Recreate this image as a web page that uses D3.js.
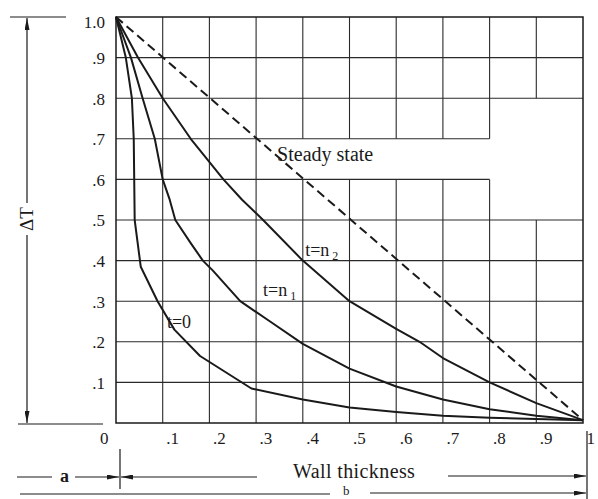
<!DOCTYPE html>
<html><head><meta charset="utf-8">
<script src="https://cdn.jsdelivr.net/npm/d3@7/dist/d3.min.js"></script>
<style>html,body{margin:0;padding:0;background:#fff;} svg{display:block;}</style>
</head><body>
<svg id="chart" width="598" height="499"></svg>
<script>
// ---------- data ----------
const xTicks = [0, 0.1, 0.2, 0.3, 0.4, 0.5, 0.6, 0.7, 0.8, 0.9, 1];
const xTickLabels = ["0", ".1", ".2", ".3", ".4", ".5", ".6", ".7", ".8", ".9", "1"];
const yTicks = [1, 0.9, 0.8, 0.7, 0.6, 0.5, 0.4, 0.3, 0.2, 0.1];
const yTickLabels = ["1.0", ".9", ".8", ".7", ".6", ".5", ".4", ".3", ".2", ".1"];
const gridTicks = [0.1, 0.2, 0.3, 0.4, 0.5, 0.6, 0.7, 0.8, 0.9];
// gaps in the printed grid (blank area around "Steady state")
const vGridGaps = [
  {at: 0.4, from: 0.6, to: 0.7}, {at: 0.5, from: 0.6, to: 0.7},
  {at: 0.6, from: 0.6, to: 0.7}, {at: 0.7, from: 0.6, to: 0.7},
  {at: 0.8, from: 0.6, to: 0.7}, {at: 0.9, from: 0.5, to: 0.8}
];
const hGridGaps = [
  {at: 0.6, from: 0.8, to: 1}, {at: 0.7, from: 0.8, to: 1}
];

const curveT0 = [[0,1],[0.021,0.9],[0.034,0.8],[0.038,0.7],[0.039,0.6],[0.04,0.5],
  [0.053,0.385],[0.089,0.3],[0.125,0.23],[0.18,0.165],[0.29,0.085],[0.4,0.058],
  [0.5,0.038],[0.6,0.027],[0.7,0.018],[0.8,0.013],[0.9,0.01],[1,0.007]];
const curveN1 = [[0,1],[0.032,0.9],[0.057,0.8],[0.083,0.7],[0.1,0.6],[0.115,0.55],
  [0.127,0.5],[0.16,0.443],[0.186,0.4],[0.207,0.376],[0.266,0.3],[0.33,0.25],
  [0.4,0.195],[0.5,0.134],[0.6,0.09],[0.7,0.058],[0.8,0.034],[0.9,0.018],[1,0.007]];
const curveN2 = [[0,1],[0.047,0.9],[0.1,0.8],[0.16,0.7],[0.23,0.6],[0.27,0.55],
  [0.315,0.5],[0.4,0.4],[0.5,0.3],[0.6,0.232],[0.65,0.2],[0.7,0.16],[0.8,0.1],
  [0.9,0.049],[1,0.007]];
const steadyState = [[0,1],[1,0.007]];

// ---------- setup ----------
const svg = d3.select("#chart");
const ink = "#1a1a1a";
const serif = "'Liberation Serif','Times New Roman',Times,serif";
const x = d3.scaleLinear().domain([0,1]).range([116,583]);
const y = d3.scaleLinear().domain([0,1]).range([423,17]);

svg.append("rect").attr("width",598).attr("height",499).attr("fill","#fff");

const defs = svg.append("defs");
defs.append("marker").attr("id","arr")
  .attr("viewBox","0 0 12 5").attr("refX",12).attr("refY",2.5)
  .attr("markerWidth",12).attr("markerHeight",5).attr("markerUnits","userSpaceOnUse")
  .attr("orient","auto-start-reverse")
  .append("path").attr("d","M0,0L12,2.5L0,5Z").attr("fill",ink);

// ---------- grid ----------
const grid = svg.append("g").attr("stroke","#2a2a2a").attr("stroke-width",1.1);
function spans(gaps, v){
  const g = gaps.find(d => Math.abs(d.at - v) < 1e-9);
  return g ? [[0,g.from],[g.to,1]] : [[0,1]];
}
gridTicks.forEach(v => {
  spans(vGridGaps, v).forEach(s => grid.append("line")
    .attr("x1",x(v)).attr("x2",x(v)).attr("y1",y(s[0])).attr("y2",y(s[1])));
  spans(hGridGaps, v).forEach(s => grid.append("line")
    .attr("y1",y(v)).attr("y2",y(v)).attr("x1",x(s[0])).attr("x2",x(s[1])));
});
svg.append("rect").attr("x",x(0)).attr("y",y(1))
  .attr("width",x(1)-x(0)).attr("height",y(0)-y(1))
  .attr("fill","none").attr("stroke",ink).attr("stroke-width",1.5);

// ---------- axes ----------
const yAxis = d3.axisLeft(y).tickValues(yTicks).tickFormat((d,i)=>yTickLabels[i])
  .tickSize(0).tickPadding(11);
const gy = svg.append("g").attr("transform",`translate(${x(0)},0)`).call(yAxis);
gy.select(".domain").remove();
gy.selectAll("text").attr("font-family",serif).attr("font-size",17).attr("fill",ink)
  .attr("dy",(d,i)=> i===0 ? "0.6em" : "0.35em");

const xAxis = d3.axisBottom(x).tickValues(xTicks).tickFormat((d,i)=>xTickLabels[i])
  .tickSize(0).tickPadding(9);
const gx = svg.append("g").attr("transform",`translate(0,${y(0)})`).call(xAxis);
gx.select(".domain").remove();
gx.selectAll("text").attr("font-family",serif).attr("font-size",17).attr("fill",ink)
  .attr("text-anchor",(d,i)=> i===0 ? "end" : "start")
  .attr("dx",(d,i)=> i===0 ? -8 : 3);

// ---------- curves ----------
const line = d3.line().x(d=>x(d[0])).y(d=>y(d[1]));
[curveT0, curveN1, curveN2].forEach(c => svg.append("path").datum(c)
  .attr("d",line).attr("fill","none").attr("stroke",ink)
  .attr("stroke-width",2).attr("stroke-linejoin","round"));
svg.append("path").datum(steadyState).attr("d",line).attr("fill","none")
  .attr("stroke",ink).attr("stroke-width",2).attr("stroke-dasharray","9,5");

// ---------- labels ----------
function label(txt, sub, dx, dyv, size){
  const t = svg.append("text").attr("x",x(dx)).attr("y",y(dyv))
    .attr("font-family",serif).attr("font-size",size).attr("fill",ink).text(txt);
  if (sub) t.append("tspan").attr("font-size",12).attr("dx",3).attr("dy",4).text(sub);
}
label("t=0", "", 0.109, 0.234, 18);
label("t=n", "1", 0.315, 0.313, 18);
label("t=n", "2", 0.405, 0.411, 18);
svg.append("text").attr("x",x(0.345)).attr("y",y(0.645))
  .attr("font-family",serif).attr("font-size",20).attr("fill",ink).text("Steady state");

// ---------- ΔT dimension ----------
const dim = svg.append("g").attr("stroke",ink).attr("stroke-width",1.2).attr("fill","none");
dim.append("line").attr("x1",10).attr("x2",66).attr("y1",y(1)).attr("y2",y(1));
dim.append("line").attr("x1",18).attr("x2",103).attr("y1",y(0)+1).attr("y2",y(0)+1);
dim.append("line").attr("x1",27).attr("x2",27).attr("y1",203).attr("y2",y(1)+1)
  .attr("marker-end","url(#arr)");
dim.append("line").attr("x1",27).attr("x2",27).attr("y1",235).attr("y2",y(0))
  .attr("marker-end","url(#arr)");
svg.append("text").attr("transform","translate(33,219) rotate(-90)")
  .attr("text-anchor","middle").attr("font-family",serif).attr("font-size",19)
  .attr("fill",ink).text("ΔT");

// ---------- wall thickness dimensions ----------
dim.append("line").attr("x1",17).attr("x2",52).attr("y1",477).attr("y2",477);
dim.append("line").attr("x1",75).attr("x2",119).attr("y1",477).attr("y2",477)
  .attr("marker-end","url(#arr)");
dim.append("line").attr("x1",120).attr("x2",120).attr("y1",449).attr("y2",489);
dim.append("line").attr("x1",121).attr("x2",257).attr("y1",477).attr("y2",477)
  .attr("marker-start","url(#arr)");
dim.append("line").attr("x1",448).attr("x2",586).attr("y1",476).attr("y2",476)
  .attr("marker-end","url(#arr)");
dim.append("line").attr("x1",587).attr("x2",587).attr("y1",431).attr("y2",499);
dim.append("line").attr("x1",20).attr("x2",330).attr("y1",494).attr("y2",494);
dim.append("line").attr("x1",370).attr("x2",586).attr("y1",493).attr("y2",493)
  .attr("marker-end","url(#arr)");

svg.append("text").attr("x",60).attr("y",482).attr("font-family",serif)
  .attr("font-size",18).attr("font-weight","bold").attr("fill",ink).text("a");
svg.append("text").attr("x",293).attr("y",478).attr("font-family",serif)
  .attr("font-size",20).attr("letter-spacing",0.4).attr("fill",ink).text("Wall thickness");
svg.append("text").attr("x",343).attr("y",495).attr("font-family",serif)
  .attr("font-size",13).attr("fill",ink).text("b");
</script>
</body></html>
